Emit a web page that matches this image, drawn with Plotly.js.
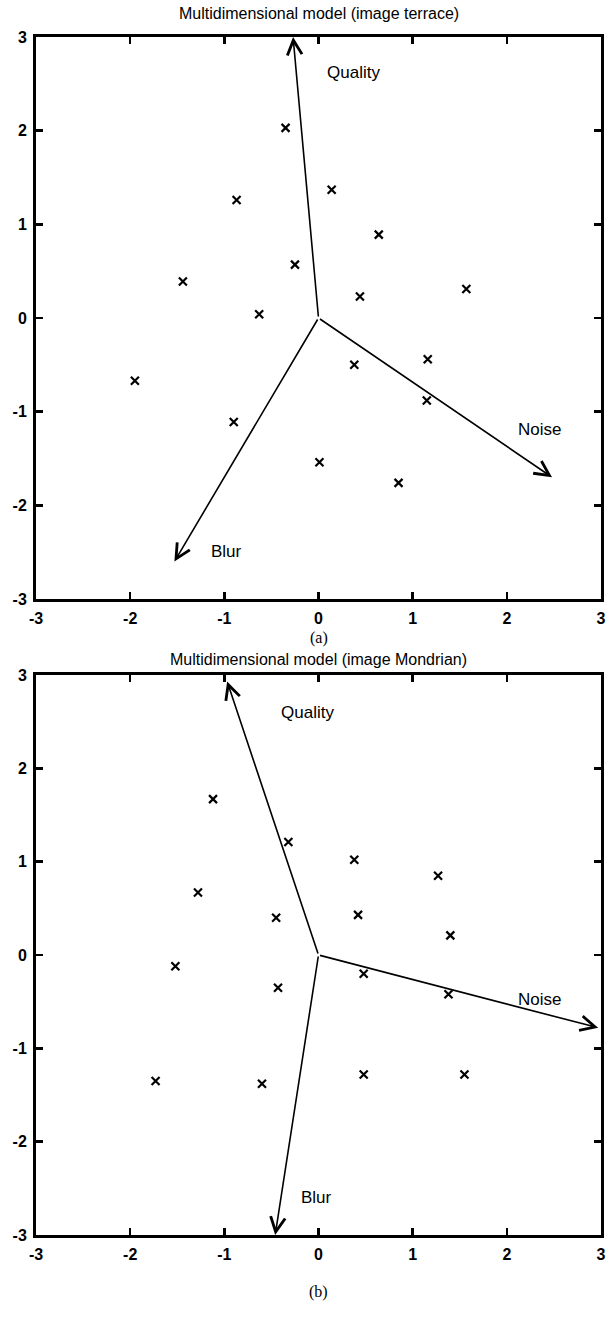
<!DOCTYPE html>
<html><head><meta charset="utf-8">
<script src="https://cdn.plot.ly/plotly-3.0.1.min.js"></script>
<style>html,body{margin:0;padding:0;background:#fff}</style>
</head><body><div id="chart" style="width:613px;height:1326px"></div>
<script>
// ---- Data: (a) image terrace ----
const terraceX = [-0.35, 0.14, -0.87, 0.64, -0.25, -1.44, 0.44, 1.57, -0.63, -1.95, 0.38, 1.16, 1.15, -0.90, 0.01, 0.85];
const terraceY = [2.03, 1.37, 1.26, 0.89, 0.57, 0.39, 0.23, 0.31, 0.04, -0.67, -0.50, -0.44, -0.88, -1.11, -1.54, -1.76];
const vectorNames = ['Quality', 'Noise', 'Blur'];
const terraceVecX = [-0.27, 2.48, -1.53];
const terraceVecY = [3.0, -1.70, -2.60];
const terraceLabelX = [0.37, 2.35, -0.98];
const terraceLabelY = [2.62, -1.19, -2.49];

// ---- Data: (b) image Mondrian ----
const mondrianX = [-1.12, -0.32, 0.38, 1.27, -1.28, -0.45, 0.42, 1.40, -1.52, 0.48, -0.43, 1.38, -1.73, -0.60, 0.48, 1.55];
const mondrianY = [1.67, 1.21, 1.02, 0.85, 0.67, 0.40, 0.43, 0.21, -0.12, -0.20, -0.35, -0.42, -1.35, -1.38, -1.28, -1.28];
const mondrianVecX = [-0.97, 2.97, -0.46];
const mondrianVecY = [2.93, -0.78, -3.0];
const mondrianLabelX = [-0.12, 2.35, -0.02];
const mondrianLabelY = [2.60, -0.48, -2.60];

const titles = ['Multidimensional model (image terrace)', 'Multidimensional model (image Mondrian)'];
const captions = ['(a)', '(b)'];
const tickVals = [-3, -2, -1, 0, 1, 2, 3];
const tickText = ['-3', '-2', '-1', '0', '1', '2', '3'];

const H = 1326;
const py = p => 1 - p / H;
const sans = 'Liberation Sans, Arial, Helvetica, sans-serif';

function axis(domain, anchor) {
  return {
    domain: domain, anchor: anchor, range: [-3, 3], tickvals: tickVals, ticktext: tickText,
    ticks: 'inside', ticklen: 7, tickwidth: 2.5, tickcolor: '#000',
    showline: true, linewidth: 3, linecolor: '#000', mirror: 'ticks',
    showgrid: false, zeroline: false, fixedrange: true,
    tickfont: {family: sans, size: 16, color: '#000', weight: 'bold'}, ticklabelstandoff: 3
  };
}

const markerStyle = {symbol: 'x-thin', size: 8, color: '#000', line: {width: 2.2, color: '#000'}};
const traces = [
  {x: terraceX, y: terraceY, xaxis: 'x', yaxis: 'y', mode: 'markers', type: 'scatter', marker: markerStyle, hoverinfo: 'none'},
  {x: mondrianX, y: mondrianY, xaxis: 'x2', yaxis: 'y2', mode: 'markers', type: 'scatter', marker: markerStyle, hoverinfo: 'none'}
];

const annotations = [];
function addVectors(vx, vy, lx, ly, xr, yr) {
  for (let i = 0; i < vectorNames.length; i++) {
    annotations.push({
      x: vx[i], y: vy[i], ax: 0, ay: 0, xref: xr, yref: yr, axref: xr, ayref: yr,
      text: '', showarrow: true, arrowhead: 5, arrowsize: 1.8, arrowwidth: 1.6, arrowcolor: '#000',
      standoff: 0, startstandoff: 0
    });
    annotations.push({
      x: lx[i], y: ly[i], xref: xr, yref: yr, text: vectorNames[i], showarrow: false,
      font: {family: sans, size: 17, color: '#000'}
    });
  }
}
addVectors(terraceVecX, terraceVecY, terraceLabelX, terraceLabelY, 'x', 'y');
addVectors(mondrianVecX, mondrianVecY, mondrianLabelX, mondrianLabelY, 'x2', 'y2');

const titleY = [14, 659];
const capY = [638, 1292];
for (let i = 0; i < 2; i++) {
  annotations.push({x: 0.5, y: py(titleY[i]), xref: 'paper', yref: 'paper', text: titles[i], showarrow: false,
    font: {family: sans, size: 16, color: '#000'}, yanchor: 'middle'});
  annotations.push({x: 0.5, y: py(capY[i]), xref: 'paper', yref: 'paper', text: captions[i], showarrow: false,
    font: {family: 'Liberation Serif, Times New Roman, serif', size: 16, color: '#000'}, yanchor: 'middle'});
}

const layout = {
  width: 613, height: 1326, showlegend: false,
  margin: {l: 36, r: 12, t: 0, b: 0},
  paper_bgcolor: '#fff', plot_bgcolor: '#fff',
  xaxis: axis([0, 1], 'y'),
  yaxis: axis([py(599), py(37)], 'x'),
  xaxis2: axis([0, 1], 'y2'),
  yaxis2: axis([py(1235), py(675)], 'x2'),
  annotations: annotations
};

Plotly.newPlot('chart', traces, layout, {staticPlot: true, displayModeBar: false});
</script>
</body></html>
